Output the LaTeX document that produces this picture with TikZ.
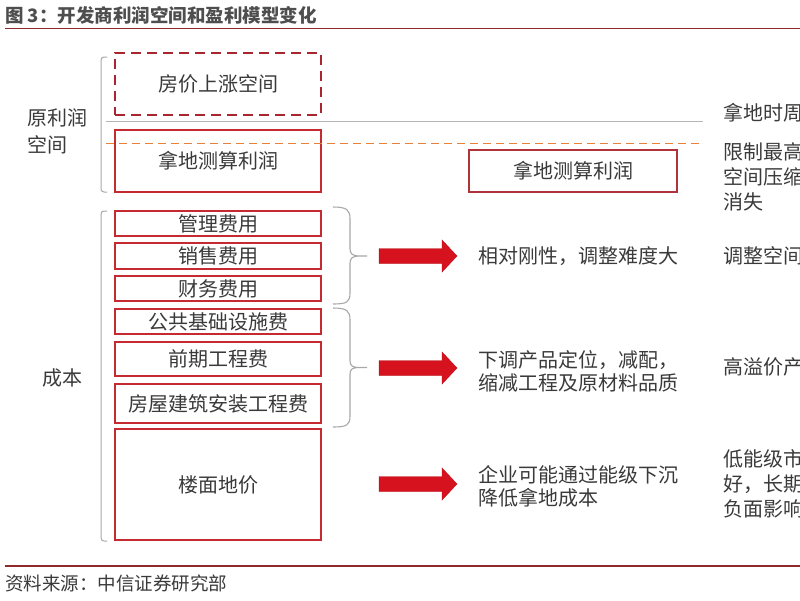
\documentclass[tikz,border=0pt]{standalone}
\usepackage{fontspec}
\setmainfont{Noto Sans CJK SC}
\definecolor{txt}{HTML}{3A3A3A}
\definecolor{boxred}{HTML}{C42A30}
\definecolor{dashred}{HTML}{A8262F}
\definecolor{rboxred}{HTML}{B0323A}
\definecolor{arrred}{HTML}{D5121E}
\definecolor{rulered}{HTML}{8E2A2E}
\definecolor{orangedash}{HTML}{E8803A}
\definecolor{graybr}{HTML}{A8A8A8}
\tikzset{
  redbox/.style={draw=boxred, line width=2.2pt, inner sep=0pt, text=txt,
    font=\fontsize{20}{24}\selectfont, minimum width=206pt},
  dashbox/.style={redbox, draw=dashred, line width=2.5pt, dash pattern=on 10pt off 6pt},
  plain/.style={text=txt, inner sep=0pt, align=left, anchor=west},
  lbl/.style={plain, font=\fontsize{20}{27}\selectfont},
  mtxt/.style={plain, font=\fontsize{20}{23}\selectfont},
  rtxt/.style={plain, font=\fontsize{20}{25}\selectfont},
  bracketline/.style={draw=graybr, line width=1pt, rounded corners=3pt},
  bracestyle/.style={draw=graybr, line width=1.1pt},
  blockarrow/.style={fill=arrred, draw=arrred!85!black, line width=0.4pt},
  rulestyle/.style={draw=rulered, line width=1.2pt}
}
\begin{document}
\begin{tikzpicture}[x=1pt,y=-1pt]
\useasboundingbox (0,0) rectangle (800,600);
\clip (0,0) rectangle (800,600);
\fill[white] (0,0) rectangle (800,600);

% title and rules
\node[plain, font=\bfseries\fontsize{18.5}{22}\selectfont, text=txt!90!white] (title) at (5,15) {图 3：开发商利润空间和盈利模型变化};
\coordinate (rt1) at (5,28.5);
\coordinate (rt2) at (800,28.5);
\draw[rulestyle] (rt1) -- (rt2);
\coordinate (rb1) at (5,566);
\coordinate (rb2) at (800,566);
\draw[rulestyle] (rb1) -- (rb2);
\node[plain, font=\fontsize{18.5}{22}\selectfont] (source) at (5,583) {资料来源：中信证券研究部};

% left labels
\node[lbl] (lprofit) at (27,131.5) {原利润\\空间};
\node[lbl] (lcost) at (42,378) {成本};

% left brackets
\draw[bracketline] (107,57) -- (101,57) -- (101,192) -- (107,192);
\draw[bracketline] (107,211) -- (101,211) -- (101,541) -- (107,541);

% profit boxes
\node[dashbox, minimum height=62pt] (rise) at (218,84) {房价上涨空间};
\node[redbox, minimum height=62pt] (calc) at (218,161) {拿地测算利润};

% cost boxes
\node[redbox, minimum height=25pt] (c1) at (218,223.5) {管理费用};
\node[redbox, minimum height=26pt] (c2) at (218,256) {销售费用};
\node[redbox, minimum height=25pt] (c3) at (218,288.5) {财务费用};
\node[redbox, minimum height=25pt] (c4) at (218,321.5) {公共基础设施费};
\node[redbox, minimum height=34pt] (c5) at (218,359) {前期工程费};
\node[redbox, minimum height=39pt] (c6) at (218,403.5) {房屋建筑安装工程费};
\node[redbox, minimum height=111pt] (c7) at (218,484.5) {楼面地价};

% horizontal lines
\coordinate (g1) at (106,121.5);
\coordinate (g2) at (703,121.5);
\draw[draw=graybr!85, line width=1.3pt] (g1) -- (g2);
\coordinate (o1) at (106,143.5);
\coordinate (o2) at (703,143.5);
\draw[draw=orangedash, line width=1.7pt, dash pattern=on 8pt off 5pt] (o1) -- (o2);

% right box
\node[redbox, draw=rboxred, line width=1.8pt, minimum width=208pt, minimum height=42pt] (calc2) at (573,171) {拿地测算利润};

% braces
\coordinate (br1t) at (333,207);
\coordinate (br1m) at (367,256);
\coordinate (br1b) at (333,304);
\draw[bracestyle] (br1t) .. controls (347,207) and (350,210) .. (350,219)
  -- (350,249) .. controls (350,254) and (353,256) .. (359,256) -- (br1m)
  (359,256) .. controls (353,256) and (350,258) .. (350,263)
  -- (350,293) .. controls (350,302) and (347,304) .. (br1b);
\coordinate (br2t) at (333,308);
\coordinate (br2m) at (367,367.5);
\coordinate (br2b) at (333,427);
\draw[bracestyle] (br2t) .. controls (347,308) and (350,311) .. (350,320)
  -- (350,361) .. controls (350,366) and (353,367.5) .. (359,367.5) -- (br2m)
  (359,367.5) .. controls (353,367.5) and (350,369) .. (350,374)
  -- (350,416) .. controls (350,425) and (347,427) .. (br2b);

% arrows
\coordinate (a1) at (379,256);
\coordinate (a2) at (379,368);
\coordinate (a3) at (379,484);
\foreach \a in {a1,a2,a3}{
  \draw[blockarrow] (\a) ++(0,-7.5) -- ++(63,0) -- ++(0,-8.5) -- ++(15,16) -- ++(-15,16) -- ++(0,-8.5) -- ++(-63,0) -- cycle;
}

% middle texts
\node[mtxt] (m1) at (478,256) {相对刚性，调整难度大};
\node[mtxt] (m2) at (478,371) {下调产品定位，减配，\\缩减工程及原材料品质};
\node[mtxt] (m3) at (478,486.5) {企业可能通过能级下沉\\降低拿地成本};

% right texts (cut at the page edge, as in the reference)
\node[rtxt] (r0) at (723,113) {拿地时周};
\node[rtxt] (r1) at (723,177) {限制最高\\空间压缩\\消失};
\node[rtxt] (r2) at (723,256) {调整空间};
\node[rtxt] (r3) at (723,367) {高溢价产};
\node[rtxt] (r4) at (723,484) {低能级市\\好，长期\\负面影响};
\end{tikzpicture}
\end{document}
